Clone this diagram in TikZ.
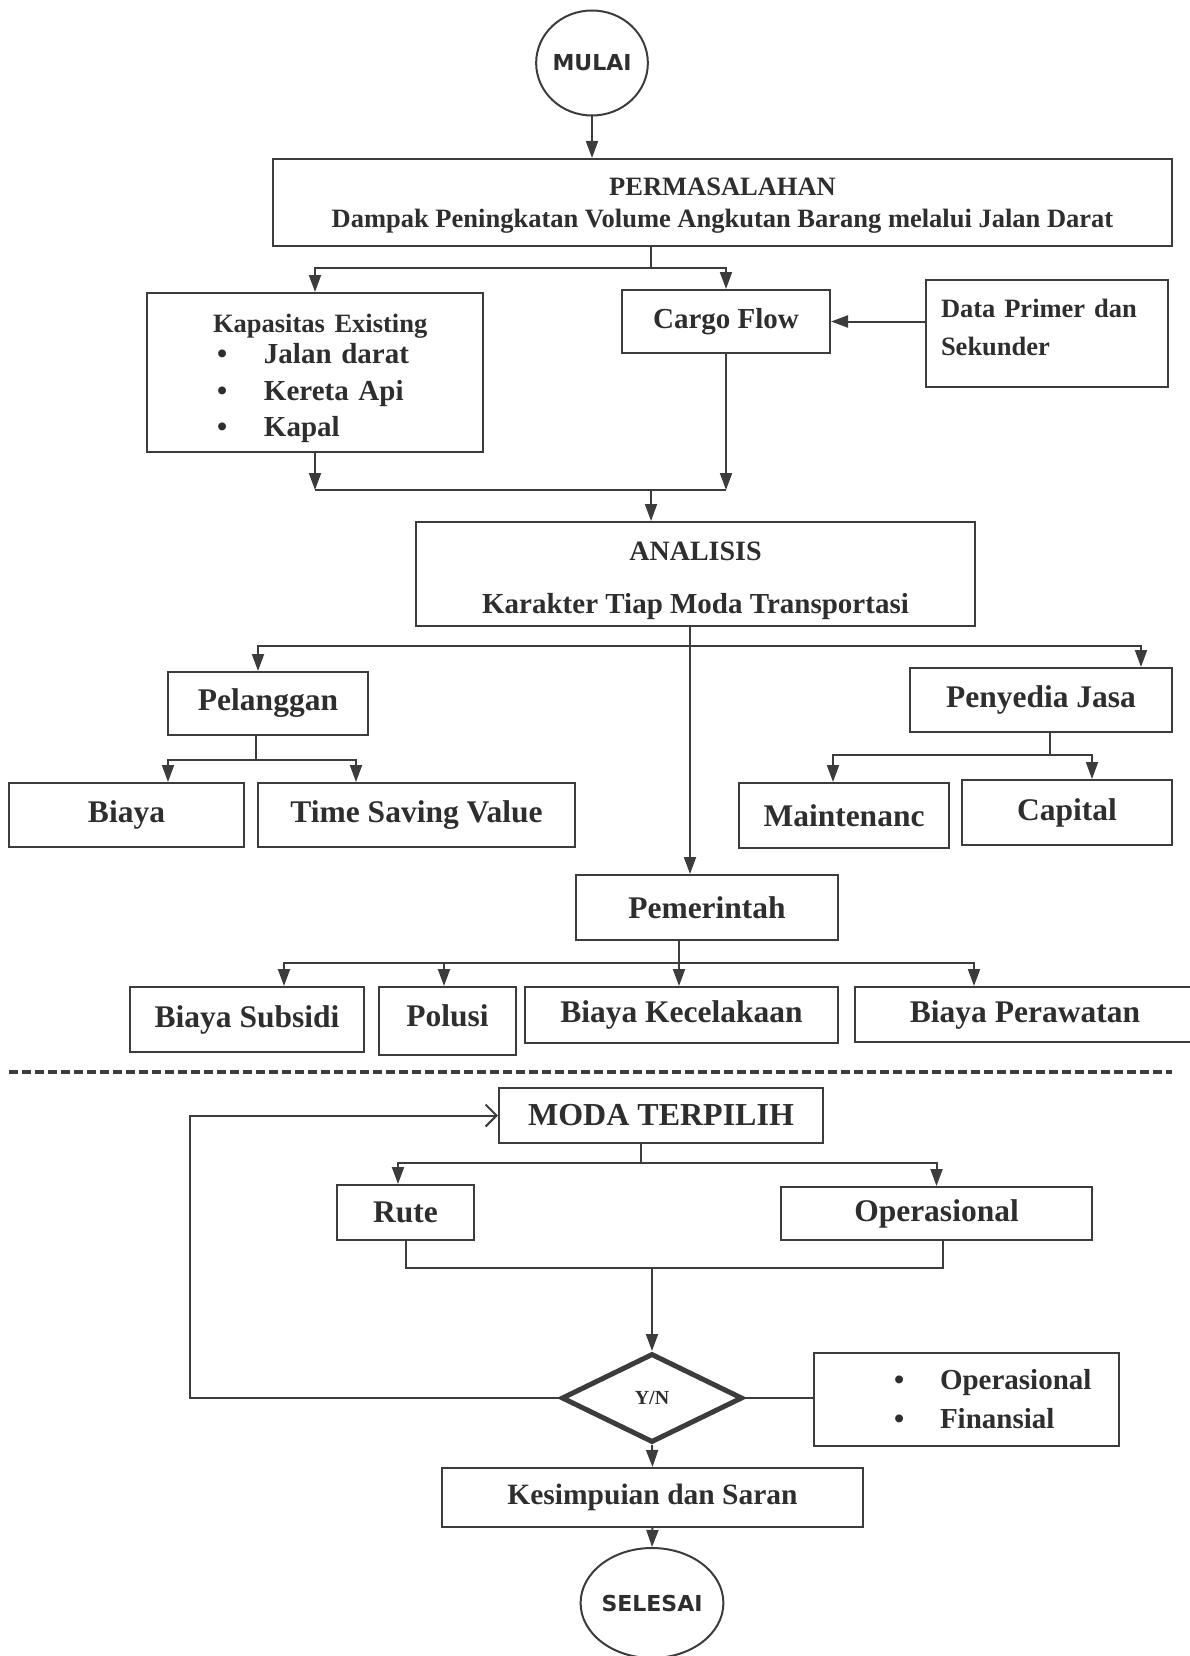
\documentclass[tikz,border=0pt]{standalone}
\usepackage{fontspec}
\setmainfont{Liberation Serif}
\newfontfamily\sansheavy{DejaVu Sans}
\usetikzlibrary{calc,shapes.geometric,arrows.meta}
\definecolor{garis}{HTML}{3C3C3C}
\definecolor{tinta}{HTML}{2E2E2E}
\newcommand\txta{\fontsize{26.5}{32}\selectfont}
\newcommand\txtb{\fontsize{29}{38}\selectfont}
\newcommand\txtc{\fontsize{31.5}{38}\selectfont}

\begin{document}
\begin{tikzpicture}[x=1pt, y=-1pt,
  box/.style={draw=garis, line width=2pt, inner sep=0pt, text=tinta, font=\bfseries\txtc, align=center},
  terminal/.style={draw=garis, line width=2pt, ellipse, inner sep=0pt, text=tinta, font=\sansheavy\bfseries\fontsize{22}{26}\selectfont},
  decision/.style={draw=garis, line width=5pt, diamond, inner sep=0pt, text=tinta, font=\bfseries\fontsize{20}{24}\selectfont},
  line/.style={draw=garis, line width=2pt},
  arr/.style={line, -{Triangle[length=17pt, width=12pt]}},
  barb/.style={line, -{Straight Barb[length=11pt, width=22pt]}}]
  \useasboundingbox (0,0) rectangle (1189,1656);
  \node[terminal, minimum width=111pt, minimum height=105pt] (mulai) at (592,63) {MULAI};
  \node[box, minimum width=899pt, minimum height=87pt, font=\bfseries\txta] (masalah) at ($(mulai) + (130.5, 139.5)$)
    {\rule{0pt}{24.5pt}PERMASALAHAN\\Dampak Peningkatan Volume Angkutan Barang melalui Jalan Darat};
  \node[box, minimum width=336pt, minimum height=159pt, text width=336pt, align=left, font=\bfseries\fontsize{29}{36.7}\selectfont] (kapasitas) at ($(mulai) + (-277, 309.5)$)
    {\hspace*{66pt}{\txta\rule{0pt}{30.8pt}Kapasitas Existing}\\[-6pt]
     \hspace*{70pt}\makebox[47pt][l]{\textbullet}Jalan darat\\
     \hspace*{70pt}\makebox[47pt][l]{\textbullet}Kereta Api\\
     \hspace*{70pt}\makebox[47pt][l]{\textbullet}Kapal};
  \node[box, minimum width=208pt, minimum height=63pt, font=\bfseries\txtb] (cargo) at ($(mulai) + (134, 258.5)$) {Cargo Flow};
  \node[box, minimum width=242pt, minimum height=107pt, text width=212pt, align=left, font=\bfseries\fontsize{26.5}{38}\selectfont] (data) at ($(mulai) + (455, 270.5)$)
    {\makebox[212pt][s]{Data Primer dan}\\Sekunder\rule[-13pt]{0pt}{13pt}};
  \node[box, minimum width=559pt, minimum height=104pt, font=\bfseries\fontsize{29}{36}\selectfont] (analisis) at ($(mulai) + (103.5, 511)$)
    {{\fontsize{28}{36}\selectfont\rule{0pt}{31.5pt}ANALISIS}\\[17pt]Karakter Tiap Moda Transportasi};
  \node[box, minimum width=200pt, minimum height=63pt] (pelanggan) at ($(mulai) + (-324, 640.5)$) {Pelanggan};
  \node[box, minimum width=262pt, minimum height=64pt] (penyedia) at ($(mulai) + (449, 637)$) {Penyedia Jasa};
  \node[box, minimum width=235pt, minimum height=64pt] (biaya) at ($(mulai) + (-465.5, 752)$) {Biaya};
  \node[box, minimum width=317pt, minimum height=64pt] (tsv) at ($(mulai) + (-175.5, 752)$) {Time Saving Value};
  \node[box, minimum width=210pt, minimum height=65pt] (maint) at ($(mulai) + (252, 752.5)$) {Maintenanc};
  \node[box, minimum width=210pt, minimum height=65pt] (capital) at ($(mulai) + (475, 749.5)$) {Capital};
  \node[box, minimum width=262pt, minimum height=65pt] (pemerintah) at ($(mulai) + (115, 844.5)$) {Pemerintah};
  \node[box, minimum width=234pt, minimum height=65pt] (subsidi) at ($(mulai) + (-345, 956.5)$) {Biaya Subsidi};
  \node[box, minimum width=137pt, minimum height=68pt] (polusi) at ($(mulai) + (-144.5, 958)$) {Polusi\rule[-10pt]{0pt}{0pt}};
  \node[box, minimum width=313pt, minimum height=56pt] (kecelakaan) at ($(mulai) + (89.5, 952)$) {Biaya Kecelakaan};
  \node[box, minimum width=340pt, minimum height=55pt] (perawatan) at ($(mulai) + (433, 951.5)$) {Biaya Perawatan};
  \node[box, minimum width=324pt, minimum height=55pt, font=\bfseries\fontsize{32}{38}\selectfont] (moda) at ($(mulai) + (69, 1052.5)$) {MODA TERPILIH};
  \node[box, minimum width=137pt, minimum height=55pt] (rute) at ($(mulai) + (-186.5, 1149.5)$) {Rute};
  \node[box, minimum width=311pt, minimum height=53pt] (operasional) at ($(mulai) + (344.5, 1150.5)$) {Operasional};
  \node[decision, minimum width=181pt, minimum height=89pt] (yn) at ($(mulai) + (60, 1335)$) {Y/N};
  \node[box, minimum width=305pt, minimum height=93pt, text width=305pt, align=left, font=\bfseries\fontsize{29}{39}\selectfont] (kriteria) at ($(mulai) + (374.5, 1336.5)$)
    {\hspace*{80pt}\makebox[46pt][l]{\textbullet}Operasional\\
     \hspace*{80pt}\makebox[46pt][l]{\textbullet}Finansial};
  \node[box, minimum width=421pt, minimum height=59pt, font=\bfseries\fontsize{29.5}{36}\selectfont] (kesimpulan) at ($(mulai) + (60.5, 1434.5)$) {Kesimpuian dan Saran};
  \node[terminal, minimum width=110pt, minimum height=110pt] (selesai) at ($(mulai) + (60, 1540)$) {SELESAI};

  \draw[arr] (mulai.south) -- (mulai.south |- masalah.north);
  \coordinate (j1) at ($(mulai) + (59, 205)$);
  \draw[line] (j1 |- masalah.south) -- (j1);
  \draw[arr] (j1) -| (kapasitas.north);
  \draw[arr] (j1) -| (cargo.north);
  \draw[arr] (data.west |- cargo.east) -- (cargo.east);
  \coordinate (j2) at ($(mulai) + (59, 427)$);
  \draw[arr] (kapasitas.south) -- (kapasitas.south |- j2);
  \draw[arr] (cargo.south) -- (cargo.south |- j2);
  \draw[line] (kapasitas.south |- j2) -- (cargo.south |- j2);
  \draw[arr] (j2) -- (j2 |- analisis.north);
  \coordinate (j3) at ($(mulai) + (98, 583)$);
  \draw[arr] (j3 |- analisis.south) -- (j3 |- pemerintah.north);
  \draw[arr] (j3) -| ([xshift=-10pt]pelanggan.north);
  \draw[arr] (j3) -| ([xshift=100pt]penyedia.north);
  \coordinate (j4) at ($(mulai) + (-336, 697)$);
  \draw[line] (j4 |- pelanggan.south) -- (j4);
  \draw[arr] (j4) -| ([xshift=41.5pt]biaya.north);
  \draw[arr] (j4) -| ([xshift=-60.5pt]tsv.north);
  \coordinate (j5) at ($(mulai) + (458, 692)$);
  \draw[line] (j5 |- penyedia.south) -- (j5);
  \draw[arr] (j5) -| ([xshift=-11pt]maint.north);
  \draw[arr] (j5) -| ([xshift=25pt]capital.north);
  \coordinate (j6) at ($(mulai) + (87, 900)$);
  \draw[line] (j6 |- pemerintah.south) -- (j6);
  \draw[arr] (j6) -| ([xshift=37pt]subsidi.north);
  \draw[arr] (j6) -| ([xshift=-3.5pt]polusi.north);
  \draw[arr] (j6) -- (j6 |- kecelakaan.north);
  \draw[arr] (j6) -| ([xshift=-51pt]perawatan.north);
  \draw[garis, line width=4pt, dash pattern=on 9pt off 4pt] ($(mulai) + (-583, 1009)$) -- ($(mulai) + (580, 1009)$);
  \coordinate (j7) at ($(mulai) + (49, 1100)$);
  \draw[line] (j7 |- moda.south) -- (j7);
  \draw[arr] (j7) -| ([xshift=-7.5pt]rute.north);
  \draw[arr] (j7) -| (operasional.north);
  \coordinate (j8) at ($(mulai) + (60, 1205)$);
  \draw[line] (rute.south) |- (j8) -| ([xshift=6.5pt]operasional.south);
  \draw[arr] (j8) -- (yn.north);
  \draw[line] (yn.east) -- (yn.east -| kriteria.west);
  \coordinate (loop) at ($(mulai) + (-402, 1052.5)$);
  \draw[barb] (yn.west) -| (loop) -- (moda.west);
  \draw[arr] (yn.south) -- (kesimpulan.north);
  \draw[arr] (kesimpulan.south) -- (selesai.north);
\end{tikzpicture}
\end{document}
